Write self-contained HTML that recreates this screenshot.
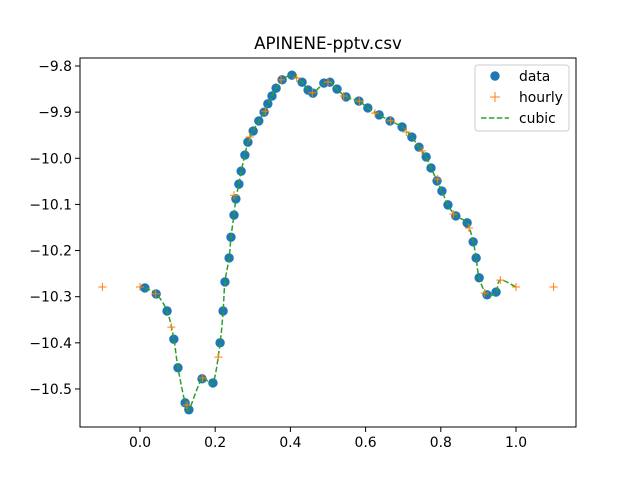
<!DOCTYPE html>
<html><head><meta charset="utf-8"><style>
body{margin:0;background:#fff;}
svg{display:block;font-family:"DejaVu Sans","Liberation Sans",sans-serif;}
</style></head><body>
<svg id="chart" width="640" height="480" xmlns="http://www.w3.org/2000/svg">
<rect width="640" height="480" fill="#fff"/>
<text x="328" y="49" font-size="16.7" text-anchor="middle">APINENE-pptv.csv</text>
<g id="ticks"></g>
<g id="plot"></g>
<rect x="80" y="58" width="496" height="369" fill="none" stroke="#000" stroke-width="1"/>
<g>
<rect x="475" y="65" width="94" height="66" rx="3" fill="#fff" fill-opacity="0.8" stroke="#ccc"/>
<circle cx="495" cy="76" r="4.7" fill="#1f77b4"/>
<text x="519" y="81" font-size="13.9">data</text>
<path d="M490 97h10M495 92v10" stroke="#ff7f0e" stroke-width="1"/>
<text x="519" y="102" font-size="13.9">hourly</text>
<path d="M481 118h28" stroke="#2ca02c" stroke-width="1.5" stroke-dasharray="5.5,2.4"/>
<text x="519" y="123" font-size="13.9">cubic</text>
</g>
</svg>
<script>
const dataX=[0.013,0.043,0.072,0.090,0.101,0.120,0.130,0.165,0.194,0.213,0.221,0.226,0.237,0.242,0.250,0.255,0.263,0.269,0.279,0.287,0.301,0.316,0.330,0.340,0.351,0.362,0.378,0.404,0.431,0.447,0.460,0.489,0.505,0.524,0.548,0.582,0.606,0.636,0.665,0.697,0.723,0.742,0.761,0.774,0.790,0.803,0.819,0.840,0.870,0.886,0.894,0.902,0.923,0.947];
const dataY=[-10.281,-10.294,-10.331,-10.392,-10.454,-10.530,-10.545,-10.478,-10.487,-10.400,-10.331,-10.268,-10.216,-10.171,-10.123,-10.088,-10.056,-10.028,-9.993,-9.965,-9.941,-9.919,-9.900,-9.882,-9.865,-9.848,-9.830,-9.820,-9.835,-9.852,-9.859,-9.837,-9.835,-9.850,-9.867,-9.876,-9.891,-9.906,-9.919,-9.932,-9.954,-9.976,-9.997,-10.021,-10.049,-10.071,-10.101,-10.125,-10.140,-10.181,-10.216,-10.259,-10.296,-10.290];
const hourlyX=[-0.1,0,0.0417,0.0833,0.125,0.1667,0.2083,0.25,0.2917,0.3333,0.375,0.4167,0.4583,0.5,0.5417,0.5833,0.625,0.6667,0.7083,0.75,0.7917,0.8333,0.875,0.9167,0.9583,1.0,1.1];
const hourlyY=[-10.279,-10.279,-10.294,-10.366,-10.535,-10.476,-10.431,-10.080,-9.954,-9.898,-9.830,-9.826,-9.858,-9.835,-9.865,-9.876,-9.902,-9.919,-9.943,-9.984,-10.045,-10.121,-10.151,-10.292,-10.264,-10.279,-10.279];
const xTicks=[0.0,0.2,0.4,0.6,0.8,1.0];
const xTickLabels=["0.0","0.2","0.4","0.6","0.8","1.0"];
const yTicks=[-9.8,-9.9,-10.0,-10.1,-10.2,-10.3,-10.4,-10.5];
const yTickLabels=["−9.8","−9.9","−10.0","−10.1","−10.2","−10.3","−10.4","−10.5"];

const NS="http://www.w3.org/2000/svg";
const sx=v=>140+376*v;
const sy=v=>66-(v+9.8)*461.4;
const ticks=document.getElementById('ticks'), plot=document.getElementById('plot');
function mk(tag,attrs,parent){const e=document.createElementNS(NS,tag);for(const k in attrs)e.setAttribute(k,attrs[k]);parent.appendChild(e);return e;}
xTicks.forEach((t,i)=>{
  const l=mk('line',{x1:sx(t),x2:sx(t),y1:427,y2:432,stroke:'#000'},ticks);
  
  
  const tx=mk('text',{x:sx(t),y:447,'font-size':13.9,'text-anchor':'middle'},ticks);
  tx.textContent=xTickLabels[i];
  
  
});
yTicks.forEach((t,i)=>{
  const l=mk('line',{x1:75,x2:80,y1:sy(t),y2:sy(t),stroke:'#000'},ticks);
  
  
  const tx=mk('text',{x:72,y:sy(t)+5,'font-size':13.9,'text-anchor':'end'},ticks);
  tx.textContent=yTickLabels[i];
  
  
});
dataX.forEach((x,i)=>{
  const c=mk('circle',{cx:sx(x),cy:sy(dataY[i]),r:4.7,fill:'#1f77b4'},plot);
  
  
});
let pts=[];
dataX.forEach((x,i)=>pts.push([x,dataY[i]]));
hourlyX.forEach((x,i)=>{if(x<=1&&x>dataX[dataX.length-1])pts.push([x,hourlyY[i]]);});
pts.sort((a,b)=>a[0]-b[0]);
pts=pts.map(p=>[sx(p[0]),sy(p[1])]);
let d='M'+pts[0][0]+' '+pts[0][1];
for(let i=0;i<pts.length-1;i++){
  const p0=pts[Math.max(0,i-1)],p1=pts[i],p2=pts[i+1],p3=pts[Math.min(pts.length-1,i+2)];
  const c1=[p1[0]+(p2[0]-p0[0])/6,p1[1]+(p2[1]-p0[1])/6];
  const c2=[p2[0]-(p3[0]-p1[0])/6,p2[1]-(p3[1]-p1[1])/6];
  d+=` C${c1[0]} ${c1[1]} ${c2[0]} ${c2[1]} ${p2[0]} ${p2[1]}`;
}
const line=mk('path',{d:d,fill:'none',stroke:'#2ca02c','stroke-width':1.5,'stroke-dasharray':'5.5,2.4'},plot);


hourlyX.forEach((x,i)=>{
  const X=sx(x),Y=sy(hourlyY[i]);
  const p=mk('path',{d:`M${X-4} ${Y}h8M${X} ${Y-4}v8`,stroke:'#ff7f0e','stroke-width':1},plot);
  
  
});
</script>
</body></html>
